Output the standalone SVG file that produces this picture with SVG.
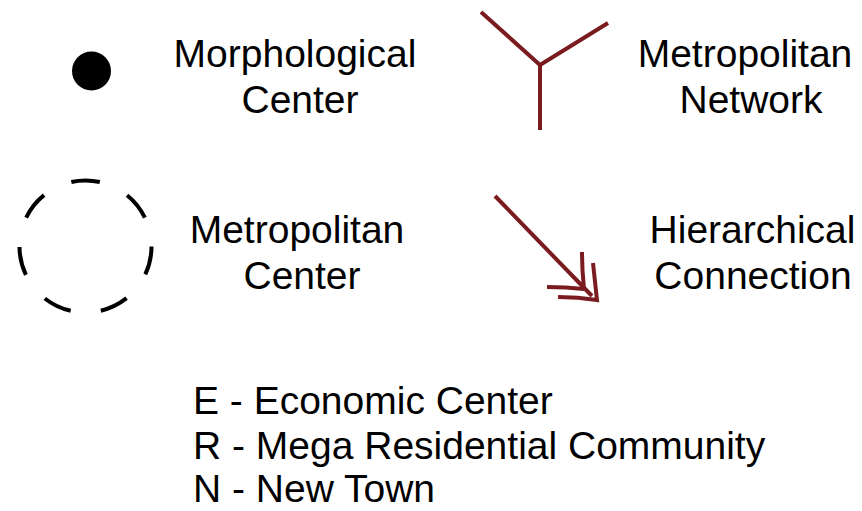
<svg xmlns="http://www.w3.org/2000/svg" width="862" height="511" viewBox="0 0 862 511">
<style>
.lbl{font-family:"Liberation Sans",Arial,sans-serif;font-size:39px;fill:#000;text-anchor:middle}
.leg{font-family:"Liberation Sans",Arial,sans-serif;font-size:39px;fill:#000}
.red{stroke:#7a1c1f;stroke-width:4;fill:none}
</style>
<rect width="862" height="511" fill="#fff"/>
<g id="morph-center">
<circle cx="91.5" cy="71" r="19.5" fill="#000"/>
<text class="lbl" x="295" y="67">Morphological</text>
<text class="lbl" x="300" y="113">Center</text>
</g>
<g id="metro-network">
<path class="red" d="M481 12 L540 65 L608 23 M540 65 L540 130"/>
<text class="lbl" x="745" y="67">Metropolitan</text>
<text class="lbl" x="751" y="113">Network</text>
</g>
<g id="metro-center">
<circle cx="85.5" cy="246.5" r="66" fill="none" stroke="#000" stroke-width="4" stroke-dasharray="28.8 30.44"/>
<text class="lbl" x="297" y="243">Metropolitan</text>
<text class="lbl" x="302" y="289">Center</text>
</g>
<g id="connectors">
<path class="red" d="M495 196 L592 296"/>
<path class="red" d="M547 287 Q566 287 584 289 Q582 270 582 252"/>
<path class="red" d="M558 297 Q578 297 597 300 Q595 281 593 263"/>
</g>
<g id="hier-conn">
<text class="lbl" x="752.5" y="243">Hierarchical</text>
<text class="lbl" x="753" y="289">Connection</text>
</g>
<g id="legend">
<text class="leg" x="193" y="414">E - Economic Center</text>
<text class="leg" x="193" y="458.5">R - Mega Residential Community</text>
<text class="leg" x="193" y="502">N - New Town</text>
</g>
</svg>
